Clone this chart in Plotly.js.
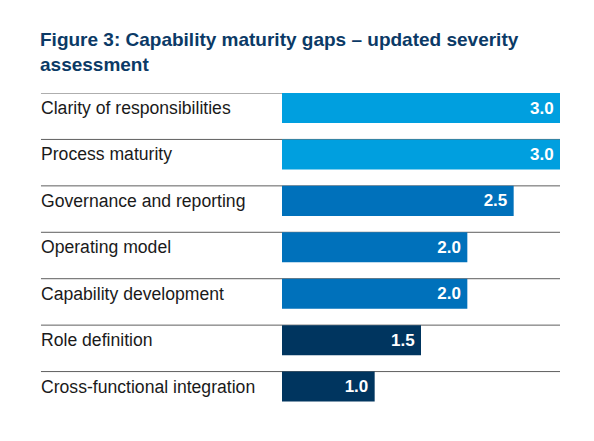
<!DOCTYPE html>
<html>
<head>
<meta charset="utf-8">
<script src="https://cdn.plot.ly/plotly-3.0.1.min.js"></script>
<style>
  html, body { margin: 0; padding: 0; background: #fff; }
  #chart { width: 594px; height: 441px; }
</style>
</head>
<body>
<div id="chart"></div>
<script>
// Values
const categories = [
  'Clarity of responsibilities',
  'Process maturity',
  'Governance and reporting',
  'Operating model',
  'Capability development',
  'Role definition',
  'Cross-functional integration',
];
const severity = [3.0, 3.0, 2.5, 2.0, 2.0, 1.5, 1.0];

const LIGHT_BLUE = '#009FDF';
const MID_BLUE = '#0071BB';
const NAVY = '#00355F';
const barColors = [LIGHT_BLUE, LIGHT_BLUE, MID_BLUE, MID_BLUE, MID_BLUE, NAVY, NAVY];

const font = 'Liberation Sans, Arial, Helvetica, sans-serif';
const ruleX = -0.867;  // left end of the row rules, in paper units
const labelX = -0.874; // labels, nudged for the annotation padding

// bar sits right under the row rule, leaving a gap below
const barWidth = 0.647;

var chart_data = [
  {
    type: 'bar',
    orientation: 'h',
    x: severity,
    y: categories.map((c, i) => i),
    width: barWidth,
    offset: -0.5,
    marker: { color: barColors, line: { width: 0 } },
    texttemplate: '%{x:.1f}\u2009',
    textposition: 'inside',
    insidetextanchor: 'end',
    textangle: 0,
    constraintext: 'none',
    textfont: { family: font, size: 17, color: '#ffffff', weight: 'bold' },
    hoverinfo: 'skip',
  },
];

// row rules and labels
var shapes = categories.map((c, i) => ({
  type: 'line',
  xref: 'paper',
  yref: 'y',
  x0: ruleX,
  x1: 1,
  y0: i - 0.5,
  y1: i - 0.5,
  line: { color: '#5e5e5e', width: 1 },
  layer: 'below',
}));

var annotations = categories.map((c, i) => ({
  text: c,
  xref: 'paper',
  yref: 'y',
  x: labelX,
  y: i - 0.5 + barWidth / 2,
  xanchor: 'left',
  yanchor: 'middle',
  showarrow: false,
  font: { family: font, size: 17.6, color: '#1a1a1a' },
}));

var chart_layout = {
  width: 594,
  height: 441,
  margin: { l: 282, r: 34, t: 93, b: 23 },
  paper_bgcolor: '#ffffff',
  plot_bgcolor: '#ffffff',
  showlegend: false,
  title: {
    text: 'Figure 3: Capability maturity gaps – updated severity<br>assessment',
    x: 40 / 594,
    xanchor: 'left',
    xref: 'container',
    y: 1 - 46 / 441,
    yanchor: 'top',
    yref: 'container',
    font: { family: font, size: 19, color: '#0B3A66', weight: 'bold' },
  },
  xaxis: {
    range: [0, 3],
    visible: false,
    fixedrange: true,
  },
  yaxis: {
    range: [6.5, -0.5],
    visible: false,
    fixedrange: true,
  },
  shapes: shapes,
  annotations: annotations,
};

Plotly.newPlot('chart', chart_data, chart_layout, { staticPlot: true });
</script>
</body>
</html>
